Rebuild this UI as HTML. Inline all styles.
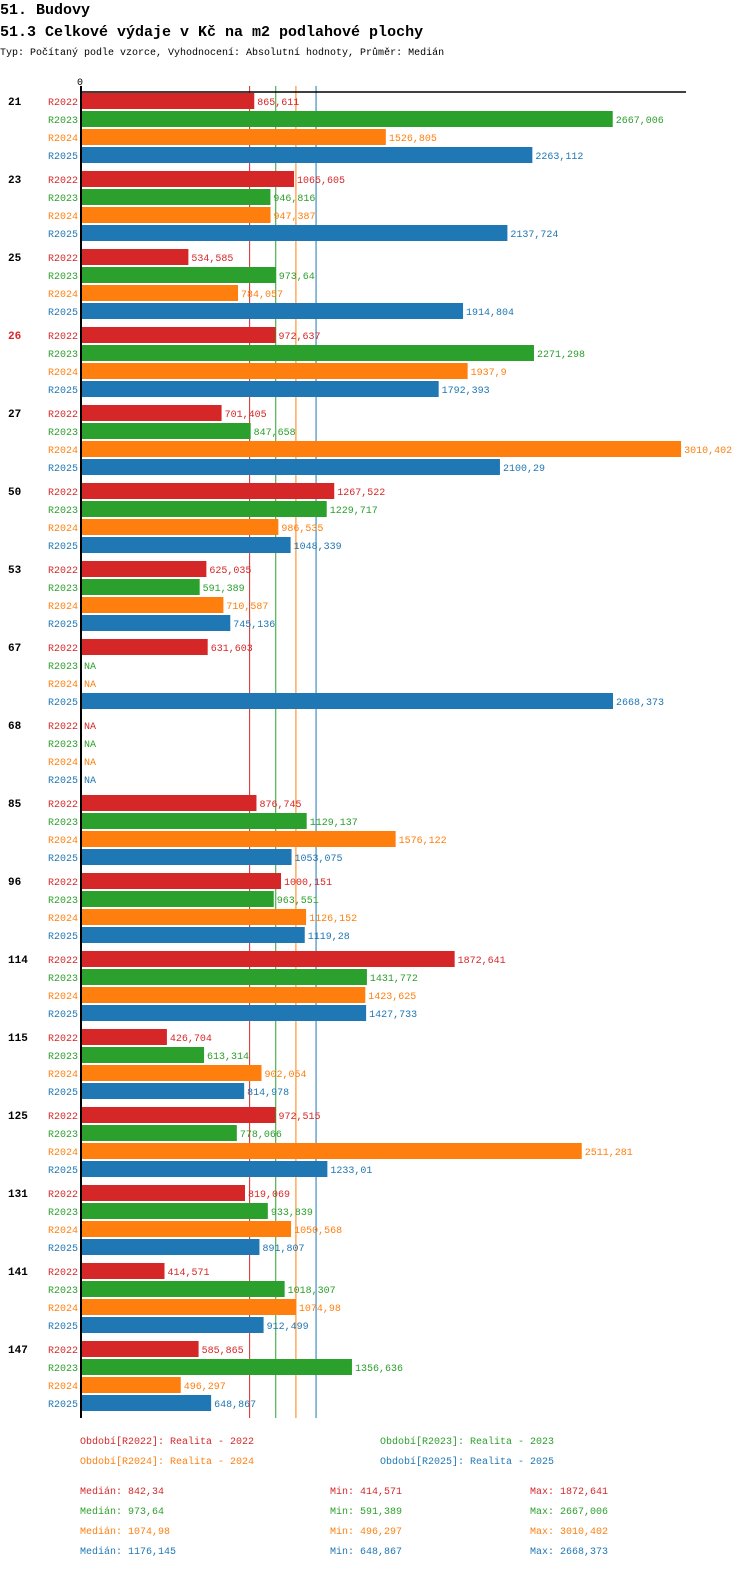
<!DOCTYPE html>
<html><head><meta charset="utf-8"><style>
body{margin:0;background:#fff;width:750px;height:1568px;overflow:hidden;font-family:"Liberation Mono",monospace}
svg text{font-family:"Liberation Mono",monospace}
</style></head><body>
<svg id="c" width="750" height="1568" xmlns="http://www.w3.org/2000/svg">
<text x="0" y="14" font-size="15" font-weight="bold">51. Budovy</text>
<text x="0" y="36" font-size="15" font-weight="bold">51.3 Celkové výdaje v Kč na m2 podlahové plochy</text>
<text x="0" y="55" font-size="10">Typ: Počítaný podle vzorce, Vyhodnocení: Absolutní hodnoty, Průměr: Medián</text>
<text x="77" y="85" font-size="10">0</text>
</svg>
<script>
const categories=["21","23","25","26","27","50","53","67","68","85","96","114","115","125","131","141","147"];
const series=["R2022","R2023","R2024","R2025"];
const v2022=[865.611,1065.605,534.585,972.637,701.405,1267.522,625.035,631.603,null,876.745,1000.151,1872.641,426.704,972.515,819.069,414.571,585.865];
const v2023=[2667.006,946.816,973.64,2271.298,847.658,1229.717,591.389,null,null,1129.137,963.551,1431.772,613.314,778.066,933.839,1018.307,1356.636];
const v2024=[1526.805,947.387,784.057,1937.9,3010.402,986.535,710.587,null,null,1576.122,1126.152,1423.625,902.054,2511.281,1050.568,1074.98,496.297];
const v2025=[2263.112,2137.724,1914.804,1792.393,2100.29,1048.339,745.136,2668.373,null,1053.075,1119.28,1427.733,814.978,1233.01,891.807,912.499,648.867];
const medians=[842.34,973.64,1074.98,1176.145];
const mins=[414.571,591.389,496.297,648.867];
const maxs=[1872.641,2667.006,3010.402,2668.373];
const colors=["#d62728","#2ca02c","#ff7f0e","#1f77b4"];
const vals=[v2022,v2023,v2024,v2025];
const svg=document.getElementById('c');
const NS="http://www.w3.org/2000/svg";
const X0=82,K=0.199;
const x=v=>X0+v*K;
const rowY=(g,r)=>101+g*78+r*18;
const fmt=v=>String(v).replace('.',',');
function mk(t,a,txt){const e=document.createElementNS(NS,t);for(const k in a)e.setAttribute(k,a[k]);if(txt!=null)e.textContent=txt;svg.appendChild(e);return e;}
medians.forEach((m,i)=>{
  const ln=mk('line',{x1:x(m),x2:x(m),y1:86,y2:1418,stroke:colors[i],'stroke-width':1});
  
  
});
categories.forEach((c,g)=>{
  const t=mk('text',{x:8,y:rowY(g,0)+4,'font-size':11,'font-weight':'bold',fill:c==="26"?"#d62728":"#000"},c);
  
  
  series.forEach((s,r)=>{
    const y=rowY(g,r);
    const l=mk('text',{x:78,y:y+4,'font-size':10,'text-anchor':'end',fill:colors[r]},s);
    
    
    const v=vals[r][g];
    if(v==null){
      const n=mk('text',{x:84,y:y+4,'font-size':10,fill:colors[r]},'NA');
      
      
    }else{
      const b=mk('rect',{x:X0,y:y-8,width:x(v)-X0,height:16,fill:colors[r]});
      
      
      const vl=mk('text',{x:x(v)+3,y:y+4,'font-size':10,fill:colors[r]},fmt(v));
      
      
    }
  });
});
const ax=mk('line',{x1:80,x2:686,y1:92,y2:92,stroke:'#000','stroke-width':1.5});


const ay=mk('line',{x1:81,x2:81,y1:86,y2:1418,stroke:'#000','stroke-width':2});


const legPos=[[80,1444],[380,1444],[80,1464],[380,1464]];
series.forEach((s,i)=>{
  const t=mk('text',{x:legPos[i][0],y:legPos[i][1],'font-size':10,fill:colors[i]},'Období['+s+']: Realita - '+s.slice(1));
  
  
  const y=1494+i*20;
  const a=mk('text',{x:80,y:y,'font-size':10,fill:colors[i]},'Medián: '+fmt(medians[i]));
  
  
  const b=mk('text',{x:330,y:y,'font-size':10,fill:colors[i]},'Min: '+fmt(mins[i]));
  
  
  const d=mk('text',{x:530,y:y,'font-size':10,fill:colors[i]},'Max: '+fmt(maxs[i]));
  
  
});
</script>
</body></html>
